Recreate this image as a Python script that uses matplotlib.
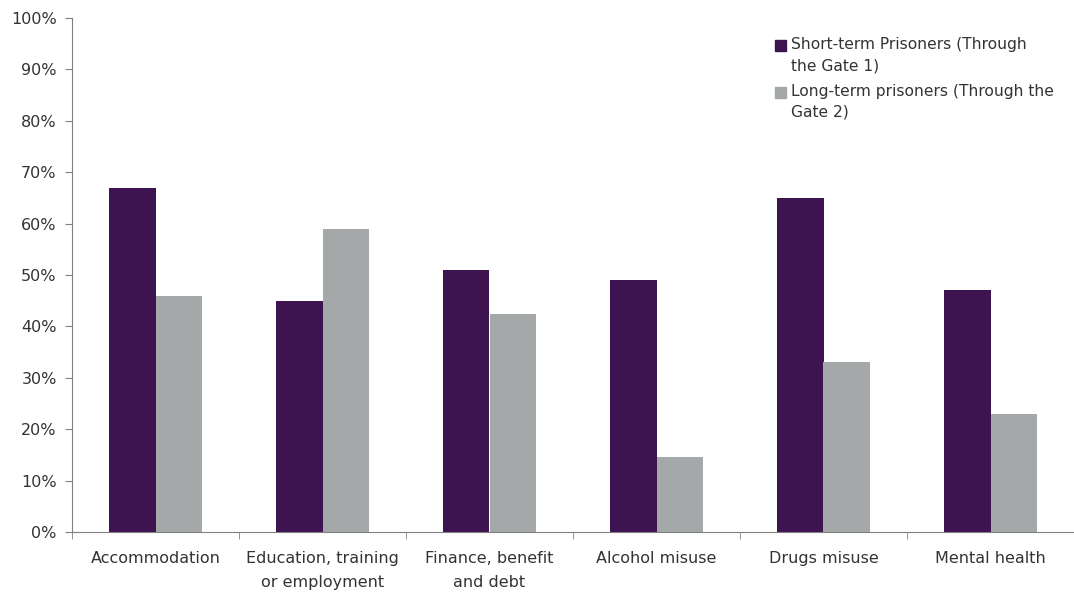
import matplotlib
matplotlib.use("Agg")
import matplotlib.pyplot as plt
import numpy as np
from matplotlib.ticker import FuncFormatter, FixedLocator
from matplotlib.patches import Rectangle

categories = ["Accommodation", "Education, training\nor employment", "Finance, benefit\nand debt",
              "Alcohol misuse", "Drugs misuse", "Mental health"]
short_term = [67, 45, 51, 49, 65, 47]
long_term = [46, 59, 42.5, 14.5, 33, 23]
series_labels = ["Short-term Prisoners (Through\nthe Gate 1)", "Long-term prisoners (Through the\nGate 2)"]
colors = ["#3d1350", "#a5a8a9"]

plt.rcParams['font.family'] = ['DejaVu Sans']
fig = plt.figure(figsize=(10.74, 5.93), dpi=100)
ax = fig.add_axes([72/1074, 1-532/593, 1002/1074, 514/593])

x = np.arange(len(categories))
w = 0.28
ax.bar(x - w/2, short_term, w, color=colors[0], label=series_labels[0])
ax.bar(x + w/2, long_term, w, color=colors[1], label=series_labels[1])

ax.set_xlim(-0.5, len(categories) - 0.5)
ax.set_ylim(0, 100)
ax.set_yticks(np.arange(0, 101, 10))
ax.yaxis.set_major_formatter(FuncFormatter(lambda v, p: f"{int(v)}%"))
ax.set_xticks(x)
ax.set_xticklabels(categories, fontsize=11.5, color="#333333", linespacing=1.7, va='top')
ax.tick_params(axis='x', length=0, pad=14)
ax.xaxis.set_minor_locator(FixedLocator(np.arange(-0.5, len(categories), 1.0)))
ax.tick_params(axis='x', which='minor', length=5, color="#808080")
ax.tick_params(axis='y', length=5, color="#808080", labelsize=11.5, labelcolor="#333333", pad=6)

for s in ['top', 'right']:
    ax.spines[s].set_visible(False)
for s in ['left', 'bottom']:
    ax.spines[s].set_color("#808080")

# legend drawn with square handles aligned to the first text line
sq_w = 11 / 1002
sq_h = 11 / 514
leg_x = 0.7016
txt_x = 0.7176
tops = [0.963, 0.872]
for lab, col, top in zip(series_labels, colors, tops):
    ax.add_patch(Rectangle((leg_x, top - 0.027), sq_w, sq_h, color=col,
                           transform=ax.transAxes, clip_on=False))
    ax.text(txt_x, top, lab, transform=ax.transAxes, fontsize=11.2, color="#333333",
            va='top', ha='left', linespacing=1.5)

fig.savefig("out.png", dpi=100)
